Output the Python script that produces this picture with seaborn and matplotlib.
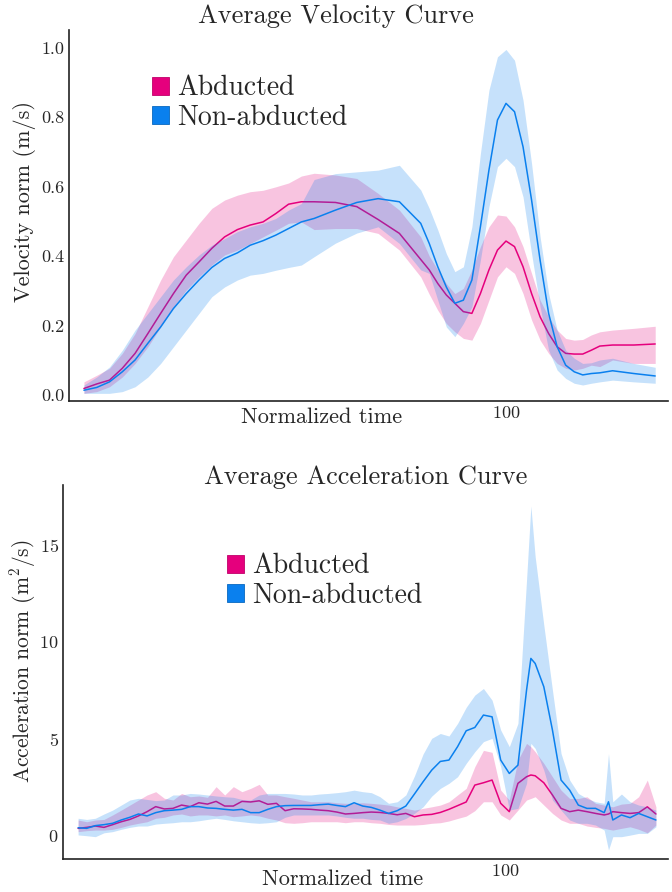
import matplotlib
matplotlib.use("Agg")
import matplotlib.pyplot as plt
from matplotlib.patches import Patch
from matplotlib.ticker import MultipleLocator, FormatStrFormatter
import seaborn as sns

PINK = "#E5007D"
BLUE = "#0A80EE"
BAND_ALPHA = 0.23

# ---- velocity data (normalized time steps) ----
t_vel = [1, 4, 7, 10, 13, 16, 19, 22, 25, 28, 31, 34, 37, 40, 43, 46, 49, 52,
         55, 60, 65, 70, 75, 80,
         82, 84, 86, 88, 90, 92, 94, 96, 98, 100, 102, 104, 106, 108, 110, 112,
         114, 116, 118, 120, 122,
         125, 130, 135]
vel_abd = [0.019, 0.032, 0.043, 0.077, 0.12, 0.177, 0.235, 0.292, 0.345, 0.383, 0.422,
           0.455, 0.476, 0.489, 0.498, 0.522, 0.549, 0.556,
           0.556, 0.554, 0.542, 0.505, 0.465, 0.39,
           0.36, 0.321, 0.288, 0.264, 0.24, 0.235, 0.292, 0.36, 0.417, 0.443, 0.427,
           0.369, 0.292, 0.225, 0.177, 0.139, 0.12, 0.118, 0.118, 0.129, 0.141,
           0.144, 0.144, 0.147]
vel_abd_hi = [0.038, 0.057, 0.077, 0.12, 0.177, 0.254, 0.331, 0.398, 0.446, 0.494, 0.537,
              0.561, 0.575, 0.585, 0.589, 0.599, 0.61, 0.63,
              0.638, 0.633, 0.623, 0.58, 0.532, 0.455,
              0.40, 0.36, 0.321, 0.292, 0.307, 0.36, 0.427, 0.484, 0.518, 0.515, 0.484,
              0.427, 0.35, 0.273, 0.225, 0.187, 0.163, 0.158, 0.16, 0.173, 0.182,
              0.187, 0.192, 0.198]
vel_abd_lo = [0.005, 0.01, 0.024, 0.052, 0.091, 0.139, 0.196, 0.254, 0.302, 0.34, 0.374,
              0.403, 0.417, 0.436, 0.455, 0.474, 0.494, 0.498,
              0.476, 0.479, 0.479, 0.465, 0.417, 0.34,
              0.29, 0.244, 0.206, 0.182, 0.163, 0.158, 0.206, 0.273, 0.34, 0.369, 0.35,
              0.292, 0.216, 0.158, 0.12, 0.091, 0.077, 0.072, 0.077, 0.086, 0.082,
              0.101, 0.091, 0.091]
vel_non = [0.014, 0.022, 0.038, 0.067, 0.101, 0.149, 0.196, 0.249, 0.292, 0.331, 0.367,
           0.393, 0.409, 0.431, 0.444, 0.46, 0.479, 0.498,
           0.508, 0.532, 0.554, 0.565, 0.556, 0.494,
           0.436, 0.369, 0.311, 0.264, 0.273, 0.331, 0.484, 0.647, 0.791, 0.839, 0.815,
           0.714, 0.561, 0.388, 0.235, 0.139, 0.086, 0.067, 0.058, 0.062, 0.064,
           0.07, 0.062, 0.055]
vel_non_hi = [0.029, 0.052, 0.081, 0.129, 0.187, 0.235, 0.283, 0.331, 0.369, 0.403, 0.431,
              0.45, 0.47, 0.484, 0.494, 0.508, 0.532, 0.551,
              0.62, 0.637, 0.642, 0.647, 0.661, 0.59,
              0.537, 0.475, 0.407, 0.355, 0.369, 0.484, 0.695, 0.877, 0.973, 0.994, 0.963,
              0.848, 0.666, 0.455, 0.292, 0.187, 0.129, 0.106, 0.091, 0.093, 0.101,
              0.106, 0.091, 0.08]
vel_non_lo = [0.005, 0.005, 0.005, 0.01, 0.024, 0.052, 0.091, 0.139, 0.187, 0.235, 0.283,
              0.311, 0.331, 0.345, 0.35, 0.359, 0.367, 0.374,
              0.398, 0.437, 0.466, 0.484, 0.436, 0.36,
              0.35, 0.273, 0.196, 0.168, 0.206, 0.254, 0.388, 0.542, 0.657, 0.681, 0.657,
              0.57, 0.407, 0.254, 0.129, 0.072, 0.048, 0.034, 0.029, 0.034, 0.038,
              0.043, 0.038, 0.034]

# ---- acceleration data ----
t_acc = [1, 3, 5, 7, 9, 11, 13, 15, 17, 19, 21, 23, 25, 27, 29, 31, 33, 35, 37, 39,
         41, 43, 45, 47, 49, 51, 53, 55, 57, 59, 61, 63, 65, 67, 69, 71, 73, 75, 77, 79,
         81, 83, 85, 87, 89, 91, 93, 95, 97, 99, 101, 103, 105, 106, 107, 109, 111, 113,
         115, 117, 119, 121, 123, 124, 125, 127, 129, 131, 133, 135]
acc_abd = [0.38, 0.43, 0.50, 0.43, 0.57, 0.72, 0.84, 1.02, 1.24, 1.50,
           1.38, 1.41, 1.58, 1.50, 1.70, 1.63, 1.77, 1.53, 1.53, 1.77,
           1.74, 1.80, 1.62, 1.67, 1.29, 1.39, 1.38, 1.36, 1.32, 1.29,
           1.22, 1.12, 1.15, 1.19, 1.22, 1.20,
           1.15, 1.08, 1.15, 0.98, 1.07, 1.10, 1.20, 1.36, 1.55, 1.74,
           2.61, 2.73, 2.87, 1.67, 1.24, 2.70, 3.04, 3.13, 3.09, 2.73,
           2.10, 1.41, 1.24, 1.32, 1.24, 1.15, 1.07, 1.12, 1.24, 1.19,
           1.15, 1.19, 1.49, 1.12]
acc_abd_hi = [0.81, 0.72, 0.81, 0.84, 1.07, 1.32, 1.58, 1.84, 2.10, 2.27,
              1.93, 1.84, 2.18, 2.01, 2.05, 1.98, 2.53, 2.10, 2.53, 2.27,
              2.44, 2.65, 2.10, 2.10, 2.01, 1.93, 1.84, 1.75, 1.75, 1.75,
              1.70, 1.67, 1.67, 1.70, 1.67, 1.63,
              1.58, 1.49, 1.41, 1.32, 1.41, 1.49, 1.58, 1.75, 2.10, 2.44,
              3.56, 4.40, 4.30, 2.35, 1.84, 3.90, 4.76, 4.59, 4.33, 3.73,
              3.04, 2.35, 1.92, 1.92, 2.01, 1.67, 1.58, 1.53, 1.49, 1.63,
              1.67, 2.01, 2.87, 1.49]
acc_abd_lo = [0.21, 0.26, 0.29, 0.29, 0.33, 0.43, 0.55, 0.64, 0.72, 0.90,
              0.95, 1.07, 1.12, 1.02, 1.07, 1.07, 1.02, 1.07, 0.98, 1.02,
              1.07, 1.02, 0.90, 0.81, 0.67, 0.64, 0.67, 0.72, 0.72, 0.72,
              0.72, 0.67, 0.72, 0.72, 0.67, 0.64,
              0.58, 0.55, 0.55, 0.55, 0.58, 0.64, 0.67, 0.76, 0.89, 1.01,
              1.29, 1.75, 1.75, 1.07, 0.81, 1.32, 1.84, 1.92, 2.01, 1.58,
              1.15, 0.81, 0.64, 0.64, 0.50, 0.43, 0.38, 0.33, 0.29, 0.38,
              0.46, 0.33, 0.15, 0.55]
acc_non = [0.41, 0.38, 0.52, 0.57, 0.64, 0.81, 0.95, 1.12, 1.02, 1.19,
           1.29, 1.32, 1.36, 1.50, 1.50, 1.43, 1.41, 1.36, 1.32, 1.36,
           1.19, 1.19, 1.36, 1.50, 1.55, 1.56, 1.56, 1.56, 1.60, 1.63,
           1.56, 1.50, 1.70, 1.53, 1.46, 1.32,
           1.15, 1.29, 1.53, 2.15, 2.78, 3.38, 3.83, 3.90, 4.59, 5.41,
           5.58, 6.22, 6.13, 3.90, 3.21, 3.64, 7.51, 9.14, 8.88, 7.68,
           5.45, 2.87, 2.35, 1.58, 1.41, 1.41, 1.19, 1.75, 0.81, 1.07,
           0.93, 1.15, 0.98, 0.81]
acc_non_hi = [0.90, 0.84, 0.90, 1.12, 1.32, 1.58, 1.84, 1.93, 1.87, 1.81,
              1.84, 2.10, 2.10, 2.18, 2.15, 2.10, 2.05, 2.01, 1.98, 1.87,
              1.84, 2.10, 2.18, 2.18, 2.18, 2.15, 2.10, 2.10, 2.15, 2.18,
              2.22, 2.27, 2.35, 2.27, 2.22, 2.01,
              1.67, 1.75, 2.10, 3.08, 4.21, 5.02, 5.27, 5.14, 5.79, 6.62,
              7.25, 7.59, 6.99, 5.45, 4.59, 5.79, 13.2, 17.0, 14.38, 10.86,
              7.51, 4.24, 2.87, 2.18, 1.92, 1.75, 1.67, 4.24, 1.75, 2.15,
              1.75, 1.58, 1.49, 1.32]
acc_non_lo = [0.04, 0.0, -0.05, 0.15, 0.21, 0.33, 0.43, 0.50, 0.50, 0.60,
              0.64, 0.67, 0.72, 0.72, 0.77, 0.84, 0.90, 0.84, 0.77, 0.72,
              0.67, 0.64, 0.67, 0.72, 0.95, 1.07, 1.07, 1.07, 1.07, 1.07,
              1.02, 0.95, 0.90, 0.90, 0.84, 0.81,
              0.64, 0.72, 0.89, 1.15, 1.49, 2.04, 2.44, 2.70, 3.04, 3.73,
              4.33, 4.85, 5.02, 3.56, 1.32, 1.41, 2.70, 4.76, 4.50, 3.38,
              1.84, 1.32, 0.81, 0.64, 0.64, 0.55, 0.29, -0.74, -0.05, -0.05,
              0.03, 0.12, 0.12, 0.46]

labels = ["Abducted", "Non-abducted"]

sns.set_style("white")
plt.rcParams["font.family"] = ["cmr10", "DejaVu Serif"]
plt.rcParams["mathtext.fontset"] = "cm"
plt.rcParams["axes.formatter.use_mathtext"] = True
plt.rcParams["axes.unicode_minus"] = False

W, H = 672, 892
fig = plt.figure(figsize=(W / 100, H / 100), dpi=100)


def px(x, y):
    return x / W, 1 - y / H


def draw_panel(ax, t, abd, abd_lo, abd_hi, non, non_lo, non_hi):
    # order matters: the blue band sits over the pink line (gives the purple tint)
    ax.fill_between(t, abd_lo, abd_hi, color=PINK, alpha=BAND_ALPHA, lw=0, zorder=1)
    sns.lineplot(x=t, y=abd, ax=ax, color=PINK, lw=1.1, zorder=2)
    ax.fill_between(t, non_lo, non_hi, color=BLUE, alpha=BAND_ALPHA, lw=0, zorder=3)
    sns.lineplot(x=t, y=non, ax=ax, color=BLUE, lw=1.1, zorder=4)
    for s in ["top", "right"]:
        ax.spines[s].set_visible(False)
    for s in ["left", "bottom"]:
        ax.spines[s].set_color("#222222")
        ax.spines[s].set_linewidth(1.2)
    ax.set_xticks([100])
    ax.tick_params(axis="both", which="major", direction="in", length=4, width=0.8,
                   labelsize=13, pad=3, color="#222222")
    ax.tick_params(axis="y", which="minor", direction="in", length=2.5, width=0.7,
                   color="#222222")
    ax.set_xlabel("")
    ax.set_ylabel("")
    ax.grid(False)


# top: velocity
ax1 = fig.add_axes([69 / W, 1 - 401 / H, (668 - 69) / W, (401 - 30) / H])
draw_panel(ax1, t_vel, vel_abd, vel_abd_lo, vel_abd_hi, vel_non, vel_non_lo, vel_non_hi)
ax1.set_xlim(-2.5, 138)
ax1.set_ylim(-0.017, 1.05)
ax1.yaxis.set_major_locator(MultipleLocator(0.2))
ax1.yaxis.set_minor_locator(MultipleLocator(0.05))
ax1.yaxis.set_major_formatter(FormatStrFormatter("%.1f"))

# bottom: acceleration
ax2 = fig.add_axes([63 / W, 1 - 859 / H, (668 - 63) / W, (859 - 485) / H])
draw_panel(ax2, t_acc, acc_abd, acc_abd_lo, acc_abd_hi, acc_non, acc_non_lo, acc_non_hi)
ax2.set_xlim(-2.5, 137.8)
ax2.set_ylim(-1.2, 18.08)
ax2.yaxis.set_major_locator(MultipleLocator(5))
ax2.yaxis.set_minor_locator(MultipleLocator(1))

# titles and labels
fig.text(*px(336, 16), "Average Velocity Curve", fontsize=19, ha="center", va="center")
fig.text(*px(366, 477), "Average Acceleration Curve", fontsize=19, ha="center", va="center")
fig.text(*px(322, 417), "Normalized time", fontsize=16, ha="center", va="center")
fig.text(*px(343, 879), "Normalized time", fontsize=16, ha="center", va="center")
fig.text(*px(25, 202), "Velocity norm (m/s)", fontsize=16, rotation=90,
         ha="center", va="center")
fig.text(*px(23, 661), "Acceleration norm (m$^2$/s)", fontsize=15.5, rotation=90,
         ha="center", va="center")

handles = [Patch(facecolor=PINK, edgecolor="#C0006A", lw=0.6),
           Patch(facecolor=BLUE, edgecolor="#0868C0", lw=0.6)]
for ax, anchor in [(ax1, px(152, 75)), (ax2, px(227, 553))]:
    ax.legend(handles=handles, labels=labels, loc="upper left", bbox_to_anchor=anchor,
              bbox_transform=fig.transFigure, frameon=False, fontsize=20,
              handlelength=0.62, handleheight=0.62, handletextpad=0.3,
              labelspacing=0.12, borderpad=0, borderaxespad=0)

fig.savefig("out.png", dpi=100)
